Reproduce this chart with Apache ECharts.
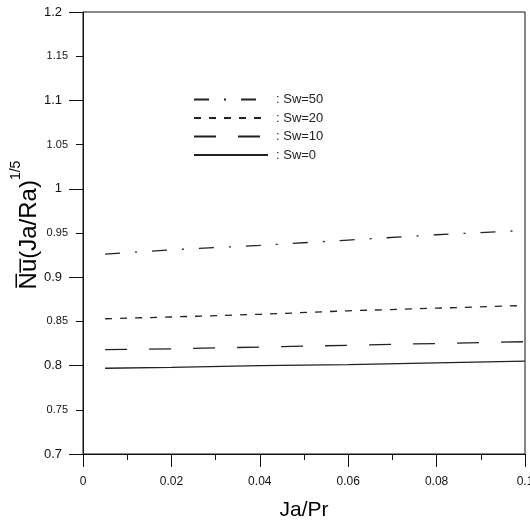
<!DOCTYPE html>
<html>
<head>
<meta charset="utf-8">
<script src="https://cdn.jsdelivr.net/npm/echarts@6/dist/echarts.min.js"></script>
<style>
html,body{margin:0;padding:0;background:#fff;}
#chart{width:530px;height:522px;}
</style>
</head>
<body>
<div id="chart"></div>
<script>
// x values (Ja/Pr)
var jaPr = [0.005, 0.02, 0.04, 0.06, 0.08, 0.1];
// series names
var seriesNames = ['Sw=50', 'Sw=20', 'Sw=10', 'Sw=0'];
// Nu(Ja/Ra)^(1/5) values per series
var sw50 = [0.926, 0.931, 0.936, 0.942, 0.948, 0.953];
var sw20 = [0.853, 0.855, 0.858, 0.862, 0.865, 0.868];
var sw10 = [0.818, 0.819, 0.821, 0.823, 0.825, 0.827];
var sw0  = [0.797, 0.798, 0.800, 0.801, 0.803, 0.805];
// axis ranges
var xMin = 0, xMax = 0.1, xStep = 0.02;
var yMin = 0.7, yMax = 1.2, yMajor = 0.1, yMinor = 0.05;

var values = [sw50, sw20, sw10, sw0];
var dashes = [[15, 15, 2, 15], [7, 8], [22, 22], 'solid'];
var FONT = '"Liberation Sans", Arial, sans-serif';

function pairs(ys) { return jaPr.map(function (x, i) { return [x, ys[i]]; }); }
function fmt(v) { return String(+(+v).toFixed(2)); }

var chart = echarts.init(document.getElementById('chart'));
chart.setOption({
  backgroundColor: '#fff',
  animation: false,
  textStyle: { fontFamily: FONT, color: '#000' },
  grid: {
    left: 83, right: 5, top: 12, bottom: 68, containLabel: false, outerBoundsMode: 'none',
    show: true, borderColor: '#111', borderWidth: 1, backgroundColor: 'transparent'
  },
  legend: {
    orient: 'vertical', left: 193, top: 93, padding: 0,
    itemWidth: 74, itemHeight: 14, itemGap: 5.5,
    data: seriesNames,
    itemStyle: { opacity: 0 },
    formatter: function (n) { return ': ' + n; },
    textStyle: { fontFamily: FONT, fontSize: 13, color: '#222', padding: [0, 0, 0, 3] }
  },
  xAxis: {
    type: 'value', min: xMin, max: xMax, interval: xStep,
    name: 'Ja/Pr', nameLocation: 'middle', nameGap: 46, nameMoveOverlap: false,
    nameTextStyle: { fontFamily: FONT, fontSize: 21, color: '#000' },
    axisLine: { onZero: false, lineStyle: { color: '#111', width: 1 } },
    axisTick: { length: 13, lineStyle: { color: '#111' } },
    minorTick: { show: true, splitNumber: 2, length: 6, lineStyle: { color: '#111' } },
    splitLine: { show: false }, minorSplitLine: { show: false },
    axisLabel: { fontFamily: FONT, fontSize: 12, color: '#111', margin: 22, formatter: fmt, hideOverlap: false }
  },
  yAxis: [{
    type: 'value', position: 'left', min: yMin, max: yMax, interval: yMajor,
    name: '{a|N\u0305u\u0305(Ja/Ra)}{s|1/5}', nameLocation: 'middle', nameGap: 42, nameRotate: 90,
    nameMoveOverlap: false,
    nameTextStyle: {
      padding: [0, 0, 0, 16],
      rich: {
        a: { fontFamily: FONT, fontSize: 24, color: '#000', lineHeight: 32, verticalAlign: 'bottom' },
        s: { fontFamily: FONT, fontSize: 14, color: '#000', lineHeight: 32, verticalAlign: 'top' }
      }
    },
    axisLine: { show: true, onZero: false, lineStyle: { color: '#111', width: 1 } },
    axisTick: { show: true, length: 14, lineStyle: { color: '#111' } },
    splitLine: { show: false },
    axisLabel: { fontFamily: FONT, fontSize: 13, color: '#111', margin: 21, formatter: fmt }
  }, {
    type: 'value', position: 'left', offset: 0, min: yMin, max: yMax, interval: yMinor,
    axisLine: { show: false },
    axisTick: { show: true, length: 7, lineStyle: { color: '#111' } },
    splitLine: { show: false },
    axisLabel: {
      fontFamily: FONT, fontSize: 11, color: '#111', margin: 15,
      formatter: function (v) { return Math.round(v * 100) % 10 === 5 ? fmt(v) : ''; }
    }
  }],
  series: seriesNames.map(function (n, i) {
    return {
      name: n, type: 'line', yAxisIndex: 0, data: pairs(values[i]),
      symbol: 'none', smooth: false,
      lineStyle: { color: '#222', width: 1.3, type: dashes[i] },
      itemStyle: { color: '#222' }
    };
  })
});
</script>
</body>
</html>
